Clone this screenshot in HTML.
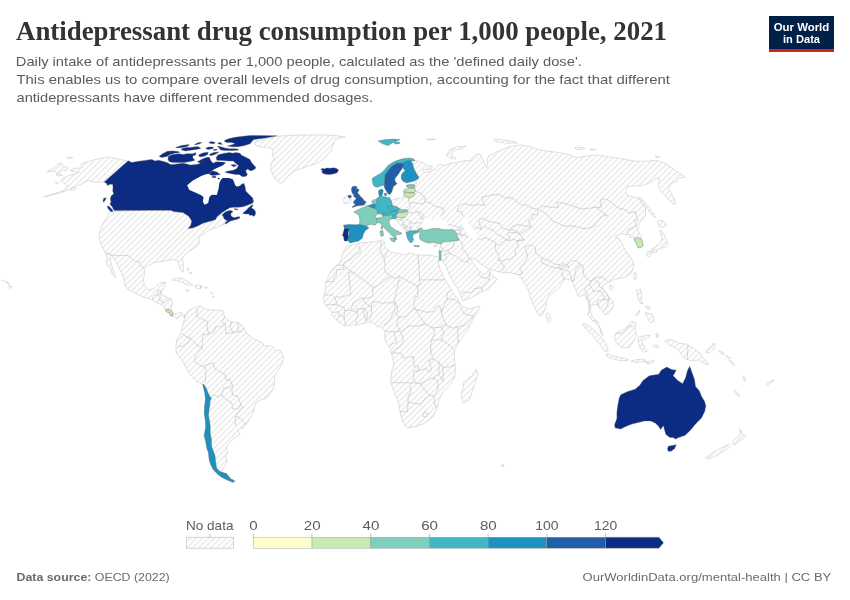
<!DOCTYPE html>
<html><head><meta charset="utf-8">
<style>
html,body{margin:0;padding:0;background:#fff;}
body{width:850px;height:600px;position:relative;overflow:hidden;font-family:"Liberation Sans",sans-serif;}
svg{position:absolute;left:0;top:0;will-change:transform;}
.ti{font-family:"Liberation Serif",serif;font-weight:bold;font-size:26.9px;fill:#333333;}
.sb{font-family:"Liberation Sans",sans-serif;font-size:13.4px;fill:#5b5b5b;}
.ft{font-family:"Liberation Sans",sans-serif;font-size:11.7px;fill:#6b6b6b;}
.lg{font-family:"Liberation Sans",sans-serif;font-size:12.6px;fill:#5b5b5b;}
.lo{font-family:"Liberation Sans",sans-serif;font-weight:bold;font-size:11.5px;fill:#fff;}
</style></head><body>
<svg width="850" height="600" viewBox="0 0 850 600">
<defs>
<pattern id="hatch" patternUnits="userSpaceOnUse" width="4.24" height="4.24" patternTransform="rotate(-45)">
<rect width="4.24" height="4.24" fill="#fff"/>
<line x1="0" y1="2.12" x2="4.24" y2="2.12" stroke="#e5e5e5" stroke-width="1.2"/>
</pattern>
<clipPath id="landclip"><polygon points="127.6,161.2 120.0,159.4 113.0,158.0 108.2,157.4 106.4,156.9 100.0,158.8 96.0,159.2 88.0,161.6 82.0,163.5 80.4,164.5 82.5,166.3 80.0,168.0 74.4,168.4 70.4,170.4 72.0,171.5 76.0,171.8 79.0,172.5 75.0,174.0 70.0,175.2 66.2,176.5 64.0,177.6 60.8,180.0 62.5,182.5 66.0,184.5 68.0,185.8 64.0,190.4 55.0,193.5 44.0,196.6 46.0,196.6 56.0,194.0 64.5,191.5 70.0,189.5 74.0,187.5 78.0,185.5 80.9,184.6 84.0,182.5 87.0,181.2 89.4,180.5 93.0,181.8 98.8,182.4 104.3,182.0"/><polygon points="47.2,171.6 52.0,168.8 56.0,165.5 60.8,162.4 64.0,166.4 68.0,168.0 66.4,170.4 62.4,170.4 58.4,173.6 53.6,171.2"/><polygon points="67.2,157.8 70.0,157.2 72.8,157.6 70.0,158.4"/><polygon points="56.0,174.6 59.0,174.2 62.4,175.0 59.0,176.0"/><polygon points="55.2,182.5 57.0,182.0 58.4,183.0 56.5,183.6"/><polygon points="71.0,188.0 74.0,187.3 76.5,188.5 74.0,190.5 71.5,190.5"/><polygon points="110.6,211.2 150.0,210.3 171.2,210.3 173.5,211.5 183.0,212.6 188.8,216.2 191.8,220.9 190.6,225.6 188.2,228.5 192.4,227.9 197.1,226.2 202.9,223.2 208.8,221.5 212.0,220.8 215.5,219.5 216.5,217.5 218.2,215.5 221.9,214.9 222.9,215.5 223.5,217.0 224.5,219.2 227.7,220.8 225.6,222.3 225.1,223.9 221.5,225.5 218.5,226.5 215.3,228.0 211.3,229.3 207.3,231.3 204.7,233.3 200.0,236.0 198.7,239.3 199.3,242.7 197.3,246.0 193.3,248.7 189.3,251.3 186.0,254.0 183.3,256.7 182.4,258.5 182.4,260.3 183.5,266.2 182.9,272.1 181.2,270.9 178.8,265.0 177.6,260.3 174.1,259.7 168.2,260.3 161.2,261.5 154.1,262.6 149.4,265.0 144.7,268.5 141.2,266.2 138.8,261.5 135.3,261.5 131.8,259.1 128.2,255.6 117.6,255.6 111.8,255.0 105.3,252.6 100.8,244.5 99.1,237.9 100.0,231.3 103.2,223.1 107.4,216.5"/><polygon points="105.3,252.6 111.8,255.0 117.6,255.6 128.2,255.6 131.8,259.1 135.3,261.5 138.8,261.5 141.2,266.2 144.7,269.7 144.7,273.2 143.5,279.1 144.1,285.0 148.2,289.7 152.9,289.1 157.6,285.0 161.2,282.6 165.9,282.6 164.1,287.4 161.2,292.1 161.2,294.4 165.9,296.8 171.8,299.1 172.4,303.8 171.5,306.5 170.8,309.0 172.3,312.0 172.8,314.0 175.0,314.0 178.0,313.0 180.5,312.5 183.0,313.5 185.0,315.0 185.3,316.3 184.0,317.5 183.0,316.0 181.0,315.0 179.0,316.0 178.0,318.5 176.5,319.0 175.0,317.0 173.5,316.5 172.3,316.0 171.0,316.0 170.0,314.5 169.0,312.5 167.5,312.3 166.3,311.5 165.8,310.0 162.4,305.0 156.5,302.6 150.6,299.1 142.4,296.8 135.3,293.2 128.2,289.7 124.7,285.0 124.1,279.1 121.2,272.1 117.6,265.0 114.1,257.9 111.8,255.6 111.2,254.4 110.0,256.2 110.6,260.3 111.8,266.2 113.5,272.1 115.9,276.2 115.3,277.9 111.8,273.2 110.6,268.5 106.5,265.0 107.1,256.8"/><polygon points="171.8,280.3 176.5,277.9 182.4,278.5 188.2,281.5 192.9,285.0 189.4,285.6 182.4,282.6 176.5,280.3"/><polygon points="195.0,285.5 199.0,285.0 202.5,286.5 201.0,288.3 197.0,288.5 195.5,287.5"/><polygon points="185.9,289.8 189.4,290.1 188.5,291.2 186.2,291.0"/><polygon points="205.0,287.0 207.0,287.0 207.0,288.2 205.0,288.2"/><polygon points="254.7,143.8 258.2,146.8 268.8,147.4 273.5,150.3 272.4,155.6 274.7,159.1 271.2,162.6 270.6,168.5 273.5,176.8 279.4,182.6 281.8,183.2 286.5,177.9 294.7,170.9 300.0,169.1 309.4,165.6 318.8,162.6 323.5,159.1 327.0,155.6 331.8,149.7 333.0,145.0 335.3,139.1 345.3,136.8 329.4,135.0 300.0,135.0 277.0,136.2 265.0,139.0 255.0,141.5"/><polygon points="187.0,268.5 188.5,268.0 189.0,270.0 187.5,270.5"/><polygon points="190.0,272.0 191.5,272.5 191.0,274.0 189.8,273.5"/><polygon points="211.0,292.0 212.0,292.0 212.0,293.5 211.0,293.5"/><polygon points="213.0,296.0 214.0,296.0 214.0,297.5 213.0,297.5"/><polygon points="2.2,280.0 3.4,280.0 3.2,281.0 2.2,281.0"/><polygon points="5.0,281.2 7.0,281.5 9.5,283.5 8.0,284.0 5.5,282.5"/><polygon points="9.0,285.3 10.5,285.6 12.0,287.2 10.5,288.8 9.0,287.5"/><polygon points="185.3,316.3 187.5,311.5 190.0,309.5 193.0,308.3 195.0,307.5 200.0,305.8 203.3,308.3 210.0,310.0 218.3,310.0 223.3,310.8 224.2,315.8 230.0,321.7 238.3,322.5 243.3,326.7 246.7,333.3 253.3,338.3 263.3,343.3 264.0,346.0 271.7,345.8 276.0,350.5 280.0,350.0 282.0,353.5 283.5,358.0 282.0,364.0 277.5,371.5 274.5,376.0 274.5,382.0 273.0,389.5 268.5,395.5 266.7,397.9 260.0,400.0 255.0,404.2 254.2,410.8 250.8,417.5 246.7,423.3 243.3,428.3 239.2,428.3 237.5,430.0 240.0,433.3 239.4,435.0 236.2,437.3 230.8,440.6 227.5,444.9 226.4,448.2 227.5,452.5 225.3,455.8 227.5,461.2 225.3,465.5 223.2,468.8 221.0,470.9 218.8,472.0 224.3,473.1 226.4,473.6 228.6,476.3 230.8,479.0 233.5,480.1 235.5,481.0 232.9,482.3 227.5,480.1 222.1,477.4 217.8,474.2 213.4,469.8 210.7,464.4 209.1,459.0 208.5,452.5 206.9,448.2 205.8,441.7 204.2,435.7 205.8,426.5 205.3,420.0 204.3,413.0 204.8,405.0 205.5,399.0 204.7,392.5 203.2,386.5 202.8,384.5 195.8,381.0 189.5,374.0 184.8,365.5 180.5,358.0 176.5,353.5 175.8,348.3 176.7,340.0 181.7,331.7 183.3,323.3"/><polygon points="352.0,245.0 360.0,243.0 366.0,242.5 372.0,242.0 378.0,241.2 380.1,240.5 382.7,239.9 384.6,242.5 384.0,245.7 385.3,248.3 387.9,249.6 392.0,252.0 396.0,253.0 404.0,255.0 410.0,253.0 416.0,255.0 426.0,255.0 434.0,256.0 438.0,257.0 440.5,258.0 438.0,261.0 440.0,269.5 444.5,278.5 449.0,286.0 453.5,293.5 458.0,299.5 461.0,305.5 468.5,309.2 476.0,307.0 479.7,306.2 477.5,311.5 473.0,319.0 470.0,325.0 467.5,330.3 461.0,339.0 454.5,349.8 454.5,360.6 455.6,369.3 454.5,378.0 450.1,384.5 443.6,391.0 439.3,399.6 437.1,408.3 432.8,417.0 424.1,423.5 415.5,426.7 406.8,427.8 402.5,421.3 400.3,412.6 398.2,401.8 393.8,391.0 390.6,382.3 391.7,371.5 393.8,362.8 391.7,354.1 389.5,347.6 385.2,341.2 384.9,337.4 384.9,332.6 384.0,329.8 381.2,327.0 376.5,326.1 373.6,323.2 370.8,321.8 364.2,323.2 357.6,325.1 351.1,325.1 344.5,326.1 340.7,323.2 336.0,319.5 332.2,315.7 331.3,311.9 327.5,307.2 324.2,303.5 323.5,299.0 325.0,291.0 326.0,281.0 330.0,273.0 334.0,267.0 340.0,263.0 342.0,255.0 346.0,247.0"/><polygon points="463.1,382.3 471.8,375.8 476.1,369.3 478.3,373.6 474.0,386.6 469.6,399.6 463.1,402.9 461.0,395.3 463.1,386.6"/><polygon points="414.6,160.4 418.8,161.3 424.5,163.2 428.2,166.0 432.9,166.0 431.1,168.8 426.4,169.8 423.5,168.8 422.6,171.6 426.4,172.6 431.1,170.7 435.8,168.8 437.6,165.1 440.5,164.1 442.4,166.0 445.2,165.1 450.8,163.2 456.5,162.7 461.2,161.3 466.0,160.8 471.1,160.4 472.7,157.1 476.0,154.6 480.1,153.8 481.8,157.1 483.4,160.4 485.1,164.5 486.7,167.8 487.5,163.7 487.0,160.0 488.0,157.5 489.2,155.5 492.5,154.6 497.4,151.4 505.7,148.1 513.9,145.6 522.1,144.8 532.0,147.2 538.6,149.7 548.5,151.4 558.8,152.4 567.6,154.1 576.5,157.6 587.1,155.9 595.9,155.0 608.2,156.8 620.6,158.5 634.7,161.2 647.1,161.2 655.9,160.3 664.7,162.9 673.5,169.1 678.8,172.6 685.0,177.1 678.8,177.9 677.0,181.5 671.8,183.2 668.2,188.5 671.8,193.8 674.4,199.1 675.3,204.4 671.8,202.6 666.5,197.4 661.2,192.1 658.5,186.8 659.4,179.7 655.9,177.9 652.4,181.5 648.8,183.2 641.8,185.9 634.7,185.9 627.6,186.8 625.9,192.1 627.6,195.6 634.7,197.4 640.0,199.1 641.0,202.0 645.5,208.0 645.5,215.5 641.0,221.5 638.0,226.0 638.0,230.5 639.5,234.0 641.7,239.5 643.2,245.5 640.2,247.7 638.0,247.7 636.5,244.0 635.0,241.0 634.2,238.7 633.5,236.5 630.5,238.0 629.0,234.0 626.0,235.0 621.5,233.5 615.5,236.5 619.0,238.5 621.5,242.5 624.5,248.5 627.5,253.0 630.5,257.5 633.5,262.0 633.5,268.0 630.5,274.0 626.0,277.0 620.0,278.3 613.3,280.0 606.7,283.3 603.3,285.0 602.0,287.0 604.0,290.0 607.0,294.0 610.0,298.0 613.0,301.0 613.5,306.0 612.0,309.0 608.0,313.0 605.0,315.0 604.0,313.0 602.0,310.0 599.0,308.0 598.0,305.0 596.0,304.0 593.0,305.0 591.0,307.0 590.5,310.0 591.0,313.0 592.5,317.0 595.0,320.0 597.0,321.0 599.0,324.0 600.0,328.0 600.5,332.0 602.0,335.5 603.0,334.0 601.0,330.0 599.0,327.0 596.0,324.0 593.0,321.0 590.0,318.0 588.0,315.0 589.0,310.0 589.0,306.0 588.0,302.0 586.5,298.0 585.0,295.0 583.3,295.0 578.3,296.7 576.7,291.7 573.3,285.0 571.7,280.0 568.3,280.0 565.0,278.3 563.3,281.7 560.0,286.7 555.0,291.7 550.0,295.0 546.7,300.0 545.8,306.7 543.3,313.3 540.8,316.7 536.7,311.7 533.3,305.0 530.0,296.7 528.3,290.0 526.7,286.7 523.3,281.7 520.0,275.0 515.0,274.0 509.0,272.5 503.0,272.5 495.5,271.0 488.0,268.7 482.0,265.0 474.5,259.0 470.0,259.0 473.5,263.5 477.0,268.0 480.0,272.0 481.5,271.5 482.5,273.5 484.0,274.5 486.5,273.0 488.0,270.5 489.5,271.0 494.0,277.0 497.0,279.2 494.0,283.0 488.0,289.0 479.0,293.5 470.0,298.0 462.5,301.0 459.5,292.0 455.0,284.5 450.5,277.0 446.0,266.5 441.5,259.0 440.5,257.5 439.5,251.0 440.0,247.0 441.0,244.0 442.0,242.0 436.0,243.0 428.0,243.0 420.0,240.0 419.0,233.0 414.8,230.8 410.0,232.0 406.3,233.6 405.0,230.5 402.5,227.5 399.0,223.5 396.0,220.0 395.2,218.5 391.5,217.0 388.0,212.0 389.0,207.0 390.5,200.6 394.0,199.6 399.0,198.5 403.0,197.8 404.0,194.0 404.5,190.0 406.5,186.0 410.0,185.0 414.0,184.5 417.0,183.0 412.0,181.0 414.0,172.0 413.0,163.0"/><polygon points="546.7,313.3 549.2,313.3 550.8,320.0 548.3,322.5 546.3,318.3"/><polygon points="610.0,285.0 613.3,286.7 611.7,290.0 609.2,288.3"/><polygon points="634.5,272.5 636.0,273.5 636.5,278.5 634.5,279.5 634.0,276.0"/><polygon points="657.5,221.5 662.0,220.0 666.5,224.5 663.5,227.5 659.0,226.7"/><polygon points="660.5,229.7 663.5,233.5 666.5,239.5 668.0,244.0 665.7,247.0 660.5,248.5 656.0,250.0 651.5,253.0 649.5,252.0 652.0,249.0 655.5,246.5 658.5,245.0 661.0,242.0 662.0,238.0 661.0,234.0 659.5,231.0"/><polygon points="647.0,251.5 650.0,251.2 651.5,253.5 650.5,256.5 648.0,257.0 646.5,254.5"/><polygon points="653.0,250.5 656.5,249.8 657.0,252.0 653.5,252.8"/><polygon points="639.5,197.0 642.0,199.0 646.0,204.0 650.0,209.0 653.5,213.5 655.5,217.0 654.0,217.5 651.0,214.0 647.5,209.0 643.5,204.0 640.0,200.0"/><polygon points="636.5,290.3 640.9,289.4 641.8,296.5 640.9,301.8 643.5,303.0 641.0,304.0 638.5,300.5 637.5,295.0"/><polygon points="645.0,306.0 648.5,306.5 650.6,308.8 648.0,310.0"/><polygon points="645.3,312.4 652.4,314.1 654.1,321.2 650.6,322.9 647.1,317.6"/><polygon points="637.0,313.0 640.0,310.0 639.0,313.5 636.0,316.0"/><polygon points="582.6,323.8 587.1,324.7 594.1,330.0 601.2,337.1 606.5,344.1 608.2,351.2 604.7,351.2 599.4,344.1 592.4,335.3 585.3,328.2"/><polygon points="606.5,353.8 615.3,356.5 624.1,358.2 628.5,360.0 622.4,360.9 613.5,359.1 606.5,356.5"/><polygon points="631.2,360.9 637.0,359.5 643.5,359.1 647.1,361.5 641.0,362.0 635.0,362.3"/><polygon points="646.0,362.8 650.0,361.3 654.1,360.0 652.0,363.3 648.0,364.0"/><polygon points="615.3,333.5 622.4,330.0 627.6,326.5 631.2,321.2 636.5,322.9 634.7,328.2 636.5,335.3 632.9,342.3 629.4,347.6 622.4,347.6 617.1,344.1 614.4,338.8"/><polygon points="638.2,337.1 647.1,335.3 650.6,335.3 645.3,338.8 641.8,340.6 643.5,345.9 647.1,351.2 643.5,352.1 640.0,347.6 638.2,342.3"/><polygon points="664.7,340.6 671.8,339.7 678.8,343.2 685.9,344.1 692.9,347.6 700.0,352.9 703.5,358.2 708.8,364.4 703.5,363.5 698.2,360.0 691.2,360.9 684.1,358.2 680.6,352.9 675.3,347.6 670.0,345.9"/><polygon points="653.0,345.5 657.0,345.0 659.0,347.0 655.0,347.5"/><polygon points="656.0,333.5 658.0,333.0 658.5,337.0 656.5,337.5"/><polygon points="705.8,352.2 708.0,349.0 711.6,346.3 715.1,348.7 712.0,350.5 709.3,353.3"/><polygon points="712.0,344.0 714.0,343.0 716.0,345.5 714.5,346.0"/><polygon points="719.0,350.8 722.0,352.0 724.5,354.0 723.5,354.8 720.5,353.0"/><polygon points="726.0,355.5 729.0,357.0 730.5,358.8 729.0,359.0 726.5,357.2"/><polygon points="729.5,360.0 732.0,361.5 734.5,364.5 733.5,365.5 730.5,362.5"/><polygon points="743.0,376.0 744.3,376.5 745.5,380.5 744.5,381.2 743.3,378.5"/><polygon points="734.0,390.2 736.0,391.2 739.5,394.5 739.5,396.3 737.0,395.0 734.5,392.0"/><polygon points="766.0,384.5 768.5,382.5 770.0,383.0 767.5,385.6"/><polygon points="770.0,381.5 773.5,379.8 774.0,380.8 771.0,382.3"/><polygon points="501.5,465.0 503.5,464.5 504.0,466.3 502.0,466.5"/><polygon points="446.4,155.5 449.6,149.7 457.9,146.4 466.1,146.1 462.8,148.1 454.6,150.5 451.3,154.6 456.2,158.8 451.3,158.8"/><polygon points="494.1,139.0 502.4,139.8 513.9,141.5 517.2,143.1 505.7,143.1 495.8,141.5"/><polygon points="574.7,147.5 580.0,147.0 585.3,148.5 581.0,149.5 576.0,149.3"/><polygon points="590.0,149.0 596.0,149.5 592.0,150.5"/><polygon points="426.6,139.0 435.6,139.0 432.0,140.0 428.0,140.0"/><polygon points="655.0,156.5 660.0,157.0 657.0,158.0"/><polygon points="705.2,457.8 713.3,452.5 721.5,447.8 728.5,444.3 730.3,446.7 723.8,451.3 715.7,456.0 708.7,458.9"/><polygon points="733.2,440.8 739.0,436.2 740.2,432.7 739.0,428.6 741.3,430.3 741.9,434.4 746.0,436.2 741.3,439.7 734.3,445.5 732.6,443.8"/><polygon points="344.5,197.4 347.3,195.5 348.3,195.5 348.0,197.0 349.2,197.9 351.1,197.9 351.5,199.7 350.6,201.6 348.7,203.0 345.9,203.5 343.6,203.5 344.1,201.6 343.6,199.7"/><polygon points="375.3,216.2 377.6,213.8 380.0,213.8 382.4,214.4 382.9,216.2 381.2,217.9 378.8,217.9 376.5,218.5"/><polygon points="433.3,246.2 435.5,245.3 438.0,244.1 437.2,245.6 435.5,246.9"/></clipPath>
</defs>
<text class="ti" x="16" y="39.8" textLength="651" lengthAdjust="spacingAndGlyphs">Antidepressant drug consumption per 1,000 people, 2021</text>
<text class="sb" x="15.8" y="66" textLength="566" lengthAdjust="spacingAndGlyphs">Daily intake of antidepressants per 1,000 people, calculated as the 'defined daily dose'.</text>
<text class="sb" x="16.5" y="83.9" textLength="653.5" lengthAdjust="spacingAndGlyphs">This enables us to compare overall levels of drug consumption, accounting for the fact that different</text>
<text class="sb" x="16.5" y="101.8" textLength="356.5" lengthAdjust="spacingAndGlyphs">antidepressants have different recommended dosages.</text>
<rect x="769" y="16" width="65" height="36" fill="#002147"/>
<rect x="769" y="49" width="65" height="3" fill="#ce261e"/>
<text class="lo" x="801.5" y="30.7" text-anchor="middle" textLength="55.5" lengthAdjust="spacingAndGlyphs">Our World</text>
<text class="lo" x="801.5" y="42.8" text-anchor="middle" textLength="37" lengthAdjust="spacingAndGlyphs">in Data</text>
<text class="ft" x="16.5" y="580.5" textLength="153.2" lengthAdjust="spacingAndGlyphs"><tspan font-weight="bold">Data source:</tspan> OECD (2022)</text>
<text class="ft" x="582.5" y="580.5" textLength="248.8" lengthAdjust="spacingAndGlyphs">OurWorldinData.org/mental-health | CC BY</text>
<g id="map">
<polygon points="127.6,161.2 120.0,159.4 113.0,158.0 108.2,157.4 106.4,156.9 100.0,158.8 96.0,159.2 88.0,161.6 82.0,163.5 80.4,164.5 82.5,166.3 80.0,168.0 74.4,168.4 70.4,170.4 72.0,171.5 76.0,171.8 79.0,172.5 75.0,174.0 70.0,175.2 66.2,176.5 64.0,177.6 60.8,180.0 62.5,182.5 66.0,184.5 68.0,185.8 64.0,190.4 55.0,193.5 44.0,196.6 46.0,196.6 56.0,194.0 64.5,191.5 70.0,189.5 74.0,187.5 78.0,185.5 80.9,184.6 84.0,182.5 87.0,181.2 89.4,180.5 93.0,181.8 98.8,182.4 104.3,182.0" fill="url(#hatch)" stroke="#c0c0c0" stroke-width="0.5" stroke-linejoin="round"/>
<polygon points="47.2,171.6 52.0,168.8 56.0,165.5 60.8,162.4 64.0,166.4 68.0,168.0 66.4,170.4 62.4,170.4 58.4,173.6 53.6,171.2" fill="url(#hatch)" stroke="#c0c0c0" stroke-width="0.5" stroke-linejoin="round"/>
<polygon points="67.2,157.8 70.0,157.2 72.8,157.6 70.0,158.4" fill="url(#hatch)" stroke="#c0c0c0" stroke-width="0.5" stroke-linejoin="round"/>
<polygon points="56.0,174.6 59.0,174.2 62.4,175.0 59.0,176.0" fill="url(#hatch)" stroke="#c0c0c0" stroke-width="0.5" stroke-linejoin="round"/>
<polygon points="55.2,182.5 57.0,182.0 58.4,183.0 56.5,183.6" fill="url(#hatch)" stroke="#c0c0c0" stroke-width="0.5" stroke-linejoin="round"/>
<polygon points="71.0,188.0 74.0,187.3 76.5,188.5 74.0,190.5 71.5,190.5" fill="url(#hatch)" stroke="#c0c0c0" stroke-width="0.5" stroke-linejoin="round"/>
<polygon points="110.6,211.2 150.0,210.3 171.2,210.3 173.5,211.5 183.0,212.6 188.8,216.2 191.8,220.9 190.6,225.6 188.2,228.5 192.4,227.9 197.1,226.2 202.9,223.2 208.8,221.5 212.0,220.8 215.5,219.5 216.5,217.5 218.2,215.5 221.9,214.9 222.9,215.5 223.5,217.0 224.5,219.2 227.7,220.8 225.6,222.3 225.1,223.9 221.5,225.5 218.5,226.5 215.3,228.0 211.3,229.3 207.3,231.3 204.7,233.3 200.0,236.0 198.7,239.3 199.3,242.7 197.3,246.0 193.3,248.7 189.3,251.3 186.0,254.0 183.3,256.7 182.4,258.5 182.4,260.3 183.5,266.2 182.9,272.1 181.2,270.9 178.8,265.0 177.6,260.3 174.1,259.7 168.2,260.3 161.2,261.5 154.1,262.6 149.4,265.0 144.7,268.5 141.2,266.2 138.8,261.5 135.3,261.5 131.8,259.1 128.2,255.6 117.6,255.6 111.8,255.0 105.3,252.6 100.8,244.5 99.1,237.9 100.0,231.3 103.2,223.1 107.4,216.5" fill="url(#hatch)" stroke="#c0c0c0" stroke-width="0.5" stroke-linejoin="round"/>
<polygon points="105.3,252.6 111.8,255.0 117.6,255.6 128.2,255.6 131.8,259.1 135.3,261.5 138.8,261.5 141.2,266.2 144.7,269.7 144.7,273.2 143.5,279.1 144.1,285.0 148.2,289.7 152.9,289.1 157.6,285.0 161.2,282.6 165.9,282.6 164.1,287.4 161.2,292.1 161.2,294.4 165.9,296.8 171.8,299.1 172.4,303.8 171.5,306.5 170.8,309.0 172.3,312.0 172.8,314.0 175.0,314.0 178.0,313.0 180.5,312.5 183.0,313.5 185.0,315.0 185.3,316.3 184.0,317.5 183.0,316.0 181.0,315.0 179.0,316.0 178.0,318.5 176.5,319.0 175.0,317.0 173.5,316.5 172.3,316.0 171.0,316.0 170.0,314.5 169.0,312.5 167.5,312.3 166.3,311.5 165.8,310.0 162.4,305.0 156.5,302.6 150.6,299.1 142.4,296.8 135.3,293.2 128.2,289.7 124.7,285.0 124.1,279.1 121.2,272.1 117.6,265.0 114.1,257.9 111.8,255.6 111.2,254.4 110.0,256.2 110.6,260.3 111.8,266.2 113.5,272.1 115.9,276.2 115.3,277.9 111.8,273.2 110.6,268.5 106.5,265.0 107.1,256.8" fill="url(#hatch)" stroke="#c0c0c0" stroke-width="0.5" stroke-linejoin="round"/>
<polygon points="171.8,280.3 176.5,277.9 182.4,278.5 188.2,281.5 192.9,285.0 189.4,285.6 182.4,282.6 176.5,280.3" fill="url(#hatch)" stroke="#c0c0c0" stroke-width="0.5" stroke-linejoin="round"/>
<polygon points="195.0,285.5 199.0,285.0 202.5,286.5 201.0,288.3 197.0,288.5 195.5,287.5" fill="url(#hatch)" stroke="#c0c0c0" stroke-width="0.5" stroke-linejoin="round"/>
<polygon points="185.9,289.8 189.4,290.1 188.5,291.2 186.2,291.0" fill="url(#hatch)" stroke="#c0c0c0" stroke-width="0.5" stroke-linejoin="round"/>
<polygon points="205.0,287.0 207.0,287.0 207.0,288.2 205.0,288.2" fill="url(#hatch)" stroke="#c0c0c0" stroke-width="0.5" stroke-linejoin="round"/>
<polygon points="254.7,143.8 258.2,146.8 268.8,147.4 273.5,150.3 272.4,155.6 274.7,159.1 271.2,162.6 270.6,168.5 273.5,176.8 279.4,182.6 281.8,183.2 286.5,177.9 294.7,170.9 300.0,169.1 309.4,165.6 318.8,162.6 323.5,159.1 327.0,155.6 331.8,149.7 333.0,145.0 335.3,139.1 345.3,136.8 329.4,135.0 300.0,135.0 277.0,136.2 265.0,139.0 255.0,141.5" fill="url(#hatch)" stroke="#c0c0c0" stroke-width="0.5" stroke-linejoin="round"/>
<polygon points="187.0,268.5 188.5,268.0 189.0,270.0 187.5,270.5" fill="url(#hatch)" stroke="#c0c0c0" stroke-width="0.5" stroke-linejoin="round"/>
<polygon points="190.0,272.0 191.5,272.5 191.0,274.0 189.8,273.5" fill="url(#hatch)" stroke="#c0c0c0" stroke-width="0.5" stroke-linejoin="round"/>
<polygon points="211.0,292.0 212.0,292.0 212.0,293.5 211.0,293.5" fill="url(#hatch)" stroke="#c0c0c0" stroke-width="0.5" stroke-linejoin="round"/>
<polygon points="213.0,296.0 214.0,296.0 214.0,297.5 213.0,297.5" fill="url(#hatch)" stroke="#c0c0c0" stroke-width="0.5" stroke-linejoin="round"/>
<polygon points="2.2,280.0 3.4,280.0 3.2,281.0 2.2,281.0" fill="url(#hatch)" stroke="#c0c0c0" stroke-width="0.5" stroke-linejoin="round"/>
<polygon points="5.0,281.2 7.0,281.5 9.5,283.5 8.0,284.0 5.5,282.5" fill="url(#hatch)" stroke="#c0c0c0" stroke-width="0.5" stroke-linejoin="round"/>
<polygon points="9.0,285.3 10.5,285.6 12.0,287.2 10.5,288.8 9.0,287.5" fill="url(#hatch)" stroke="#c0c0c0" stroke-width="0.5" stroke-linejoin="round"/>
<polygon points="185.3,316.3 187.5,311.5 190.0,309.5 193.0,308.3 195.0,307.5 200.0,305.8 203.3,308.3 210.0,310.0 218.3,310.0 223.3,310.8 224.2,315.8 230.0,321.7 238.3,322.5 243.3,326.7 246.7,333.3 253.3,338.3 263.3,343.3 264.0,346.0 271.7,345.8 276.0,350.5 280.0,350.0 282.0,353.5 283.5,358.0 282.0,364.0 277.5,371.5 274.5,376.0 274.5,382.0 273.0,389.5 268.5,395.5 266.7,397.9 260.0,400.0 255.0,404.2 254.2,410.8 250.8,417.5 246.7,423.3 243.3,428.3 239.2,428.3 237.5,430.0 240.0,433.3 239.4,435.0 236.2,437.3 230.8,440.6 227.5,444.9 226.4,448.2 227.5,452.5 225.3,455.8 227.5,461.2 225.3,465.5 223.2,468.8 221.0,470.9 218.8,472.0 224.3,473.1 226.4,473.6 228.6,476.3 230.8,479.0 233.5,480.1 235.5,481.0 232.9,482.3 227.5,480.1 222.1,477.4 217.8,474.2 213.4,469.8 210.7,464.4 209.1,459.0 208.5,452.5 206.9,448.2 205.8,441.7 204.2,435.7 205.8,426.5 205.3,420.0 204.3,413.0 204.8,405.0 205.5,399.0 204.7,392.5 203.2,386.5 202.8,384.5 195.8,381.0 189.5,374.0 184.8,365.5 180.5,358.0 176.5,353.5 175.8,348.3 176.7,340.0 181.7,331.7 183.3,323.3" fill="url(#hatch)" stroke="#c0c0c0" stroke-width="0.5" stroke-linejoin="round"/>
<polygon points="352.0,245.0 360.0,243.0 366.0,242.5 372.0,242.0 378.0,241.2 380.1,240.5 382.7,239.9 384.6,242.5 384.0,245.7 385.3,248.3 387.9,249.6 392.0,252.0 396.0,253.0 404.0,255.0 410.0,253.0 416.0,255.0 426.0,255.0 434.0,256.0 438.0,257.0 440.5,258.0 438.0,261.0 440.0,269.5 444.5,278.5 449.0,286.0 453.5,293.5 458.0,299.5 461.0,305.5 468.5,309.2 476.0,307.0 479.7,306.2 477.5,311.5 473.0,319.0 470.0,325.0 467.5,330.3 461.0,339.0 454.5,349.8 454.5,360.6 455.6,369.3 454.5,378.0 450.1,384.5 443.6,391.0 439.3,399.6 437.1,408.3 432.8,417.0 424.1,423.5 415.5,426.7 406.8,427.8 402.5,421.3 400.3,412.6 398.2,401.8 393.8,391.0 390.6,382.3 391.7,371.5 393.8,362.8 391.7,354.1 389.5,347.6 385.2,341.2 384.9,337.4 384.9,332.6 384.0,329.8 381.2,327.0 376.5,326.1 373.6,323.2 370.8,321.8 364.2,323.2 357.6,325.1 351.1,325.1 344.5,326.1 340.7,323.2 336.0,319.5 332.2,315.7 331.3,311.9 327.5,307.2 324.2,303.5 323.5,299.0 325.0,291.0 326.0,281.0 330.0,273.0 334.0,267.0 340.0,263.0 342.0,255.0 346.0,247.0" fill="url(#hatch)" stroke="#c0c0c0" stroke-width="0.5" stroke-linejoin="round"/>
<polygon points="463.1,382.3 471.8,375.8 476.1,369.3 478.3,373.6 474.0,386.6 469.6,399.6 463.1,402.9 461.0,395.3 463.1,386.6" fill="url(#hatch)" stroke="#c0c0c0" stroke-width="0.5" stroke-linejoin="round"/>
<polygon points="414.6,160.4 418.8,161.3 424.5,163.2 428.2,166.0 432.9,166.0 431.1,168.8 426.4,169.8 423.5,168.8 422.6,171.6 426.4,172.6 431.1,170.7 435.8,168.8 437.6,165.1 440.5,164.1 442.4,166.0 445.2,165.1 450.8,163.2 456.5,162.7 461.2,161.3 466.0,160.8 471.1,160.4 472.7,157.1 476.0,154.6 480.1,153.8 481.8,157.1 483.4,160.4 485.1,164.5 486.7,167.8 487.5,163.7 487.0,160.0 488.0,157.5 489.2,155.5 492.5,154.6 497.4,151.4 505.7,148.1 513.9,145.6 522.1,144.8 532.0,147.2 538.6,149.7 548.5,151.4 558.8,152.4 567.6,154.1 576.5,157.6 587.1,155.9 595.9,155.0 608.2,156.8 620.6,158.5 634.7,161.2 647.1,161.2 655.9,160.3 664.7,162.9 673.5,169.1 678.8,172.6 685.0,177.1 678.8,177.9 677.0,181.5 671.8,183.2 668.2,188.5 671.8,193.8 674.4,199.1 675.3,204.4 671.8,202.6 666.5,197.4 661.2,192.1 658.5,186.8 659.4,179.7 655.9,177.9 652.4,181.5 648.8,183.2 641.8,185.9 634.7,185.9 627.6,186.8 625.9,192.1 627.6,195.6 634.7,197.4 640.0,199.1 641.0,202.0 645.5,208.0 645.5,215.5 641.0,221.5 638.0,226.0 638.0,230.5 639.5,234.0 641.7,239.5 643.2,245.5 640.2,247.7 638.0,247.7 636.5,244.0 635.0,241.0 634.2,238.7 633.5,236.5 630.5,238.0 629.0,234.0 626.0,235.0 621.5,233.5 615.5,236.5 619.0,238.5 621.5,242.5 624.5,248.5 627.5,253.0 630.5,257.5 633.5,262.0 633.5,268.0 630.5,274.0 626.0,277.0 620.0,278.3 613.3,280.0 606.7,283.3 603.3,285.0 602.0,287.0 604.0,290.0 607.0,294.0 610.0,298.0 613.0,301.0 613.5,306.0 612.0,309.0 608.0,313.0 605.0,315.0 604.0,313.0 602.0,310.0 599.0,308.0 598.0,305.0 596.0,304.0 593.0,305.0 591.0,307.0 590.5,310.0 591.0,313.0 592.5,317.0 595.0,320.0 597.0,321.0 599.0,324.0 600.0,328.0 600.5,332.0 602.0,335.5 603.0,334.0 601.0,330.0 599.0,327.0 596.0,324.0 593.0,321.0 590.0,318.0 588.0,315.0 589.0,310.0 589.0,306.0 588.0,302.0 586.5,298.0 585.0,295.0 583.3,295.0 578.3,296.7 576.7,291.7 573.3,285.0 571.7,280.0 568.3,280.0 565.0,278.3 563.3,281.7 560.0,286.7 555.0,291.7 550.0,295.0 546.7,300.0 545.8,306.7 543.3,313.3 540.8,316.7 536.7,311.7 533.3,305.0 530.0,296.7 528.3,290.0 526.7,286.7 523.3,281.7 520.0,275.0 515.0,274.0 509.0,272.5 503.0,272.5 495.5,271.0 488.0,268.7 482.0,265.0 474.5,259.0 470.0,259.0 473.5,263.5 477.0,268.0 480.0,272.0 481.5,271.5 482.5,273.5 484.0,274.5 486.5,273.0 488.0,270.5 489.5,271.0 494.0,277.0 497.0,279.2 494.0,283.0 488.0,289.0 479.0,293.5 470.0,298.0 462.5,301.0 459.5,292.0 455.0,284.5 450.5,277.0 446.0,266.5 441.5,259.0 440.5,257.5 439.5,251.0 440.0,247.0 441.0,244.0 442.0,242.0 436.0,243.0 428.0,243.0 420.0,240.0 419.0,233.0 414.8,230.8 410.0,232.0 406.3,233.6 405.0,230.5 402.5,227.5 399.0,223.5 396.0,220.0 395.2,218.5 391.5,217.0 388.0,212.0 389.0,207.0 390.5,200.6 394.0,199.6 399.0,198.5 403.0,197.8 404.0,194.0 404.5,190.0 406.5,186.0 410.0,185.0 414.0,184.5 417.0,183.0 412.0,181.0 414.0,172.0 413.0,163.0" fill="url(#hatch)" stroke="#c0c0c0" stroke-width="0.5" stroke-linejoin="round"/>
<polygon points="546.7,313.3 549.2,313.3 550.8,320.0 548.3,322.5 546.3,318.3" fill="url(#hatch)" stroke="#c0c0c0" stroke-width="0.5" stroke-linejoin="round"/>
<polygon points="610.0,285.0 613.3,286.7 611.7,290.0 609.2,288.3" fill="url(#hatch)" stroke="#c0c0c0" stroke-width="0.5" stroke-linejoin="round"/>
<polygon points="634.5,272.5 636.0,273.5 636.5,278.5 634.5,279.5 634.0,276.0" fill="url(#hatch)" stroke="#c0c0c0" stroke-width="0.5" stroke-linejoin="round"/>
<polygon points="657.5,221.5 662.0,220.0 666.5,224.5 663.5,227.5 659.0,226.7" fill="url(#hatch)" stroke="#c0c0c0" stroke-width="0.5" stroke-linejoin="round"/>
<polygon points="660.5,229.7 663.5,233.5 666.5,239.5 668.0,244.0 665.7,247.0 660.5,248.5 656.0,250.0 651.5,253.0 649.5,252.0 652.0,249.0 655.5,246.5 658.5,245.0 661.0,242.0 662.0,238.0 661.0,234.0 659.5,231.0" fill="url(#hatch)" stroke="#c0c0c0" stroke-width="0.5" stroke-linejoin="round"/>
<polygon points="647.0,251.5 650.0,251.2 651.5,253.5 650.5,256.5 648.0,257.0 646.5,254.5" fill="url(#hatch)" stroke="#c0c0c0" stroke-width="0.5" stroke-linejoin="round"/>
<polygon points="653.0,250.5 656.5,249.8 657.0,252.0 653.5,252.8" fill="url(#hatch)" stroke="#c0c0c0" stroke-width="0.5" stroke-linejoin="round"/>
<polygon points="639.5,197.0 642.0,199.0 646.0,204.0 650.0,209.0 653.5,213.5 655.5,217.0 654.0,217.5 651.0,214.0 647.5,209.0 643.5,204.0 640.0,200.0" fill="url(#hatch)" stroke="#c0c0c0" stroke-width="0.5" stroke-linejoin="round"/>
<polygon points="636.5,290.3 640.9,289.4 641.8,296.5 640.9,301.8 643.5,303.0 641.0,304.0 638.5,300.5 637.5,295.0" fill="url(#hatch)" stroke="#c0c0c0" stroke-width="0.5" stroke-linejoin="round"/>
<polygon points="645.0,306.0 648.5,306.5 650.6,308.8 648.0,310.0" fill="url(#hatch)" stroke="#c0c0c0" stroke-width="0.5" stroke-linejoin="round"/>
<polygon points="645.3,312.4 652.4,314.1 654.1,321.2 650.6,322.9 647.1,317.6" fill="url(#hatch)" stroke="#c0c0c0" stroke-width="0.5" stroke-linejoin="round"/>
<polygon points="637.0,313.0 640.0,310.0 639.0,313.5 636.0,316.0" fill="url(#hatch)" stroke="#c0c0c0" stroke-width="0.5" stroke-linejoin="round"/>
<polygon points="582.6,323.8 587.1,324.7 594.1,330.0 601.2,337.1 606.5,344.1 608.2,351.2 604.7,351.2 599.4,344.1 592.4,335.3 585.3,328.2" fill="url(#hatch)" stroke="#c0c0c0" stroke-width="0.5" stroke-linejoin="round"/>
<polygon points="606.5,353.8 615.3,356.5 624.1,358.2 628.5,360.0 622.4,360.9 613.5,359.1 606.5,356.5" fill="url(#hatch)" stroke="#c0c0c0" stroke-width="0.5" stroke-linejoin="round"/>
<polygon points="631.2,360.9 637.0,359.5 643.5,359.1 647.1,361.5 641.0,362.0 635.0,362.3" fill="url(#hatch)" stroke="#c0c0c0" stroke-width="0.5" stroke-linejoin="round"/>
<polygon points="646.0,362.8 650.0,361.3 654.1,360.0 652.0,363.3 648.0,364.0" fill="url(#hatch)" stroke="#c0c0c0" stroke-width="0.5" stroke-linejoin="round"/>
<polygon points="615.3,333.5 622.4,330.0 627.6,326.5 631.2,321.2 636.5,322.9 634.7,328.2 636.5,335.3 632.9,342.3 629.4,347.6 622.4,347.6 617.1,344.1 614.4,338.8" fill="url(#hatch)" stroke="#c0c0c0" stroke-width="0.5" stroke-linejoin="round"/>
<polygon points="638.2,337.1 647.1,335.3 650.6,335.3 645.3,338.8 641.8,340.6 643.5,345.9 647.1,351.2 643.5,352.1 640.0,347.6 638.2,342.3" fill="url(#hatch)" stroke="#c0c0c0" stroke-width="0.5" stroke-linejoin="round"/>
<polygon points="664.7,340.6 671.8,339.7 678.8,343.2 685.9,344.1 692.9,347.6 700.0,352.9 703.5,358.2 708.8,364.4 703.5,363.5 698.2,360.0 691.2,360.9 684.1,358.2 680.6,352.9 675.3,347.6 670.0,345.9" fill="url(#hatch)" stroke="#c0c0c0" stroke-width="0.5" stroke-linejoin="round"/>
<polygon points="653.0,345.5 657.0,345.0 659.0,347.0 655.0,347.5" fill="url(#hatch)" stroke="#c0c0c0" stroke-width="0.5" stroke-linejoin="round"/>
<polygon points="656.0,333.5 658.0,333.0 658.5,337.0 656.5,337.5" fill="url(#hatch)" stroke="#c0c0c0" stroke-width="0.5" stroke-linejoin="round"/>
<polygon points="705.8,352.2 708.0,349.0 711.6,346.3 715.1,348.7 712.0,350.5 709.3,353.3" fill="url(#hatch)" stroke="#c0c0c0" stroke-width="0.5" stroke-linejoin="round"/>
<polygon points="712.0,344.0 714.0,343.0 716.0,345.5 714.5,346.0" fill="url(#hatch)" stroke="#c0c0c0" stroke-width="0.5" stroke-linejoin="round"/>
<polygon points="719.0,350.8 722.0,352.0 724.5,354.0 723.5,354.8 720.5,353.0" fill="url(#hatch)" stroke="#c0c0c0" stroke-width="0.5" stroke-linejoin="round"/>
<polygon points="726.0,355.5 729.0,357.0 730.5,358.8 729.0,359.0 726.5,357.2" fill="url(#hatch)" stroke="#c0c0c0" stroke-width="0.5" stroke-linejoin="round"/>
<polygon points="729.5,360.0 732.0,361.5 734.5,364.5 733.5,365.5 730.5,362.5" fill="url(#hatch)" stroke="#c0c0c0" stroke-width="0.5" stroke-linejoin="round"/>
<polygon points="743.0,376.0 744.3,376.5 745.5,380.5 744.5,381.2 743.3,378.5" fill="url(#hatch)" stroke="#c0c0c0" stroke-width="0.5" stroke-linejoin="round"/>
<polygon points="734.0,390.2 736.0,391.2 739.5,394.5 739.5,396.3 737.0,395.0 734.5,392.0" fill="url(#hatch)" stroke="#c0c0c0" stroke-width="0.5" stroke-linejoin="round"/>
<polygon points="766.0,384.5 768.5,382.5 770.0,383.0 767.5,385.6" fill="url(#hatch)" stroke="#c0c0c0" stroke-width="0.5" stroke-linejoin="round"/>
<polygon points="770.0,381.5 773.5,379.8 774.0,380.8 771.0,382.3" fill="url(#hatch)" stroke="#c0c0c0" stroke-width="0.5" stroke-linejoin="round"/>
<polygon points="501.5,465.0 503.5,464.5 504.0,466.3 502.0,466.5" fill="url(#hatch)" stroke="#c0c0c0" stroke-width="0.5" stroke-linejoin="round"/>
<polygon points="446.4,155.5 449.6,149.7 457.9,146.4 466.1,146.1 462.8,148.1 454.6,150.5 451.3,154.6 456.2,158.8 451.3,158.8" fill="url(#hatch)" stroke="#c0c0c0" stroke-width="0.5" stroke-linejoin="round"/>
<polygon points="494.1,139.0 502.4,139.8 513.9,141.5 517.2,143.1 505.7,143.1 495.8,141.5" fill="url(#hatch)" stroke="#c0c0c0" stroke-width="0.5" stroke-linejoin="round"/>
<polygon points="574.7,147.5 580.0,147.0 585.3,148.5 581.0,149.5 576.0,149.3" fill="url(#hatch)" stroke="#c0c0c0" stroke-width="0.5" stroke-linejoin="round"/>
<polygon points="590.0,149.0 596.0,149.5 592.0,150.5" fill="url(#hatch)" stroke="#c0c0c0" stroke-width="0.5" stroke-linejoin="round"/>
<polygon points="426.6,139.0 435.6,139.0 432.0,140.0 428.0,140.0" fill="url(#hatch)" stroke="#c0c0c0" stroke-width="0.5" stroke-linejoin="round"/>
<polygon points="655.0,156.5 660.0,157.0 657.0,158.0" fill="url(#hatch)" stroke="#c0c0c0" stroke-width="0.5" stroke-linejoin="round"/>
<polygon points="705.2,457.8 713.3,452.5 721.5,447.8 728.5,444.3 730.3,446.7 723.8,451.3 715.7,456.0 708.7,458.9" fill="url(#hatch)" stroke="#c0c0c0" stroke-width="0.5" stroke-linejoin="round"/>
<polygon points="733.2,440.8 739.0,436.2 740.2,432.7 739.0,428.6 741.3,430.3 741.9,434.4 746.0,436.2 741.3,439.7 734.3,445.5 732.6,443.8" fill="url(#hatch)" stroke="#c0c0c0" stroke-width="0.5" stroke-linejoin="round"/>
<polygon points="344.5,197.4 347.3,195.5 348.3,195.5 348.0,197.0 349.2,197.9 351.1,197.9 351.5,199.7 350.6,201.6 348.7,203.0 345.9,203.5 343.6,203.5 344.1,201.6 343.6,199.7" fill="url(#hatch)" stroke="#c0c0c0" stroke-width="0.5" stroke-linejoin="round"/>
<polygon points="375.3,216.2 377.6,213.8 380.0,213.8 382.4,214.4 382.9,216.2 381.2,217.9 378.8,217.9 376.5,218.5" fill="url(#hatch)" stroke="#c0c0c0" stroke-width="0.5" stroke-linejoin="round"/>
<polygon points="433.3,246.2 435.5,245.3 438.0,244.1 437.2,245.6 435.5,246.9" fill="url(#hatch)" stroke="#c0c0c0" stroke-width="0.5" stroke-linejoin="round"/>
<g clip-path="url(#landclip)" fill="none" stroke="#b8b8b8" stroke-width="0.55" stroke-linejoin="round"><polyline points="359.2,245.7 360.4,252.2 356.7,253.8 354.9,254.8 351.4,259.0 343.9,262.4 343.8,265.1"/>
<polyline points="343.8,265.1 333.7,265.1"/>
<polyline points="343.8,265.1 343.7,269.4 336.3,269.4 336.2,276.1 333.6,277.8 333.8,281.6 324.8,281.6"/>
<polyline points="343.8,266.0 352.4,272.0"/>
<polyline points="352.4,272.0 348.6,272.3 350.7,294.5 341.1,297.4 337.0,296.6 335.4,298.7"/>
<polyline points="335.4,298.7 332.0,294.8 325.6,295.3"/>
<polyline points="352.4,272.0 365.9,281.7 372.8,287.3"/>
<polyline points="372.8,287.3 376.3,286.5 390.2,276.0"/>
<polyline points="390.2,276.0 389.2,274.7 386.1,272.6 384.2,268.9 385.2,266.8 384.1,258.5"/>
<polyline points="384.1,258.5 379.7,250.4 381.1,247.0 381.1,241.0"/>
<polyline points="384.1,258.5 385.5,254.6 388.2,250.6"/>
<polyline points="418.1,254.8 419.6,279.9"/>
<polyline points="419.6,279.9 419.8,285.1 417.5,285.1 417.6,286.4"/>
<polyline points="417.6,286.4 399.0,276.2"/>
<polyline points="399.0,276.2 395.2,278.3 390.2,276.0"/>
<polyline points="419.6,279.9 446.5,279.9"/>
<polyline points="399.0,276.2 398.2,283.3 394.3,301.3"/>
<polyline points="372.8,287.3 372.8,294.5 371.2,297.1 365.5,298.1 363.7,298.4"/>
<polyline points="363.7,298.4 361.8,297.9 358.7,300.2 356.4,301.8 353.4,302.8 350.6,310.2"/>
<polyline points="335.4,298.7 337.1,304.9 344.0,307.5 344.9,310.7 350.6,310.2"/>
<polyline points="363.7,298.4 364.1,302.1 365.5,303.4 368.3,304.9 368.7,306.2 371.5,306.8"/>
<polyline points="371.5,306.8 372.6,302.1 376.9,301.5 381.5,303.4 386.1,302.6 391.8,303.1 394.3,301.5"/>
<polyline points="394.3,301.5 395.5,303.4 396.7,305.5 397.6,308.6 397.9,311.2 395.4,312.5 398.9,317.5"/>
<polyline points="398.9,317.5 405.8,316.4 409.2,313.5 413.7,308.6 416.0,309.4"/>
<polyline points="417.6,286.4 417.9,296.3 415.5,296.8 413.6,303.4 414.8,308.6 416.0,309.4"/>
<polyline points="416.0,309.4 421.8,310.7 425.2,312.2 429.8,312.0 433.3,311.7 436.6,306.2 439.3,305.5 441.3,311.2 441.9,309.9"/>
<polyline points="441.9,309.9 444.1,305.7 446.2,300.0 446.6,300.0"/>
<polyline points="446.6,300.0 447.4,292.9 450.9,290.3"/>
<polyline points="446.6,300.0 450.0,298.9 454.6,299.4 458.7,303.4 461.9,304.1"/>
<polyline points="458.8,307.3 461.4,308.6 464.3,313.8 473.6,316.4 466.6,324.5 460.0,326.3 457.7,326.9"/>
<polyline points="457.7,326.9 453.1,328.2 446.2,325.6 445.9,323.7"/>
<polyline points="445.9,323.7 441.4,315.1 441.9,309.9"/>
<polyline points="445.9,323.7 441.6,326.3 439.3,327.4 434.7,327.6 432.4,327.9"/>
<polyline points="416.0,309.4 418.4,314.6 425.4,323.7 432.4,327.9"/>
<polyline points="426.3,324.2 415.1,326.3 409.3,325.8 405.9,328.2 400.6,331.6"/>
<polyline points="398.9,317.5 396.4,324.2 400.1,331.3"/>
<polyline points="394.3,301.5 395.3,307.3 393.1,313.8 389.7,320.3 385.4,324.2 383.1,325.3"/>
<polyline points="371.5,306.8 371.5,313.8 369.5,320.6"/>
<polyline points="365.3,308.6 367.4,313.8 366.9,321.1"/>
<polyline points="363.2,308.6 364.4,315.1 366.0,321.4"/>
<polyline points="356.8,308.8 363.2,308.6 365.3,308.6"/>
<polyline points="356.8,308.8 357.5,315.9 355.9,320.3 356.1,324.0"/>
<polyline points="350.6,310.2 356.8,312.2"/>
<polyline points="344.9,310.7 343.9,317.2 346.0,325.8"/>
<polyline points="332.9,312.5 338.7,311.7 339.6,315.1 343.9,317.2"/>
<polyline points="339.6,315.1 336.8,319.0"/>
<polyline points="325.0,305.2 331.9,304.4 337.1,304.9"/>
<polyline points="385.8,331.3 389.3,331.6 393.9,331.6 400.1,331.3"/>
<polyline points="393.9,331.6 396.7,342.5 392.1,343.8 389.7,347.2"/>
<polyline points="400.6,331.6 403.6,339.9 400.1,346.4 395.5,349.0 391.3,352.4"/>
<polyline points="391.3,353.0 400.8,353.0 403.7,358.2 413.4,356.4 414.1,366.5 418.3,366.0 418.2,371.2"/>
<polyline points="418.2,371.2 425.1,368.6 429.6,372.3 431.5,369.1 428.7,360.8 433.3,359.0"/>
<polyline points="433.3,359.0 431.1,353.0 430.5,345.9 431.5,340.7 434.3,333.4 435.2,331.6 432.4,327.9"/>
<polyline points="441.6,326.3 443.9,333.4 441.7,337.3 441.4,339.9"/>
<polyline points="431.5,340.7 433.6,339.9 441.4,339.9 449.9,345.4 453.5,349.6"/>
<polyline points="433.3,359.0 439.0,362.1 442.5,367.3 450.4,366.8 455.9,364.4"/>
<polyline points="457.7,326.9 457.8,341.7 459.2,341.7"/>
<polyline points="418.2,371.2 413.6,371.2 413.3,379.6 416.4,383.2"/>
<polyline points="389.8,382.5 395.1,382.7 405.3,382.7 416.4,383.2"/>
<polyline points="416.4,383.2 420.5,383.8"/>
<polyline points="410.9,385.1 410.6,394.7 408.3,394.7 408.0,402.0"/>
<polyline points="408.0,402.0 407.6,411.4 399.8,412.0"/>
<polyline points="408.0,402.0 414.7,403.3 420.5,404.1 423.9,399.9 429.5,395.3"/>
<polyline points="420.5,383.8 424.3,389.5 429.5,395.3 433.8,395.8 437.9,389.5 438.1,380.9 432.6,378.0 427.0,380.4 420.5,383.8"/>
<polyline points="433.8,395.8 434.8,405.2 436.6,407.5"/>
<polyline points="432.6,378.0 438.7,373.8 442.9,381.7 443.2,375.2 442.5,367.3"/>
<polyline points="438.7,373.8 439.0,362.1"/>
<polyline points="423.0,414.3 425.3,412.2 428.3,413.8 426.8,416.4 423.9,417.2 423.0,414.3"/>
<polyline points="197.7,308.3 196.6,316.4 202.2,319.0 207.9,321.6 207.1,325.6 208.1,332.1 209.0,334.2"/>
<polyline points="209.0,334.2 203.0,334.4 202.3,339.9 202.2,348.3"/>
<polyline points="202.2,348.3 200.4,347.2 195.0,343.3 189.6,337.6 185.7,336.3 181.6,333.6"/>
<polyline points="189.6,337.6 189.0,341.2 182.8,346.4 178.2,346.2"/>
<polyline points="202.2,348.3 195.3,355.6 194.5,361.8 201.3,366.0 203.6,366.0"/>
<polyline points="203.6,366.0 205.9,369.9 205.6,375.2 205.5,379.1 205.1,383.0"/>
<polyline points="203.6,366.0 213.3,362.6 214.3,368.1 221.4,372.5 225.0,374.4 226.0,379.8 230.1,379.8 231.3,383.0 232.6,384.8"/>
<polyline points="232.6,384.8 229.4,387.7 223.4,388.5 222.3,392.1 221.9,395.3"/>
<polyline points="221.9,395.3 218.3,396.8 214.7,395.0 211.7,396.6"/>
<polyline points="232.6,384.8 231.8,389.5 232.5,395.0 237.6,396.0 238.8,399.9 240.8,404.1"/>
<polyline points="221.9,395.3 226.0,399.4 232.0,403.1 232.4,408.6 238.3,409.1 240.8,404.1"/>
<polyline points="240.8,404.1 243.0,408.0 239.0,411.2 235.7,416.1"/>
<polyline points="235.7,416.1 239.5,418.0 241.9,419.5 246.4,425.3"/>
<polyline points="235.7,416.1 235.1,420.8 235.6,425.8"/>
<polyline points="225.4,315.1 221.9,321.9 223.5,323.7 225.1,324.0"/>
<polyline points="225.1,324.0 220.4,326.6 215.8,326.9 213.9,331.6 209.0,334.2"/>
<polyline points="225.1,324.0 225.5,326.9 225.9,333.4 228.4,333.9 233.0,332.3"/>
<polyline points="233.0,332.3 229.9,326.9 232.1,321.9"/>
<polyline points="238.9,322.4 237.7,328.2 238.6,331.8"/>
<polyline points="233.0,332.3 238.6,331.8"/>
<polyline points="238.6,331.8 241.3,331.6 244.4,326.3"/>
<polyline points="152.6,299.4 152.8,297.4 154.2,295.3 157.2,295.3 157.7,290.8 160.7,290.8"/>
<polyline points="160.7,290.8 159.8,295.8"/>
<polyline points="159.8,295.8 159.7,299.7 157.2,301.5"/>
<polyline points="159.7,299.7 162.5,301.0 162.6,302.6"/>
<polyline points="162.5,303.4 164.9,302.6 166.6,300.8 169.1,299.2 173.3,298.1"/>
<polyline points="184.1,318.5 185.6,314.6"/>
<polyline points="200.8,285.4 200.3,290.3"/>
<polyline points="408.3,209.6 410.6,206.3 409.2,203.3"/>
<polyline points="409.2,203.3 409.0,200.5 408.3,197.5"/>
<polyline points="400.6,196.3 406.8,196.3"/>
<polyline points="390.2,197.5 391.3,200.8 392.3,204.8"/>
<polyline points="409.2,203.3 413.0,202.5 418.1,203.3 423.2,204.0 425.4,202.0"/>
<polyline points="425.4,202.0 424.0,199.3 426.5,198.8 422.5,195.8 421.8,193.3 416.3,191.9"/>
<polyline points="425.4,202.0 430.7,202.8 433.3,205.8 439.2,207.3 443.2,208.3 443.6,212.9 440.7,214.6"/>
<polyline points="409.3,212.6 413.4,213.1 416.6,211.6"/>
<polyline points="416.6,211.6 419.5,211.6 422.3,213.9 424.5,216.4 421.0,218.7 420.1,215.7 416.6,211.6"/>
<polyline points="421.0,218.7 424.2,219.5"/>
<polyline points="404.5,217.2 407.0,219.5 409.9,221.3"/>
<polyline points="410.0,222.1 412.9,223.4 417.0,222.9 420.9,222.6 422.4,223.4"/>
<polyline points="410.0,222.1 409.6,224.4 411.2,226.7 411.3,229.6"/>
<polyline points="401.9,217.7 403.0,220.3 402.7,221.8 403.8,224.7"/>
<polyline points="395.5,219.5 396.9,219.5 402.1,220.0"/>
<polyline points="395.5,219.5 396.5,222.1 399.9,225.2"/>
<polyline points="401.7,226.7 402.9,223.9 404.9,225.2 403.7,228.0"/>
<polyline points="403.7,228.0 406.3,228.0 406.7,230.6 407.4,231.4 405.5,233.7"/>
<polyline points="406.3,228.0 409.9,227.0 411.3,229.6 407.4,230.6"/>
<polyline points="404.9,225.2 408.3,227.0"/>
<polyline points="417.7,228.5 421.8,227.8"/>
<polyline points="446.3,224.1 450.6,224.7 455.1,225.9 460.5,228.0 465.0,228.3"/>
<polyline points="450.4,229.0 454.9,230.1 457.9,229.6 461.2,230.3 460.5,228.0"/>
<polyline points="454.9,230.1 455.6,232.7 458.3,233.7 462.3,235.8 459.4,231.6 457.9,229.6"/>
<polyline points="458.3,233.7 462.3,235.5 465.3,234.5 466.6,237.1 467.7,237.1"/>
<polyline points="458.3,233.7 457.9,237.1 459.5,240.2"/>
<polyline points="459.5,240.2 462.7,243.9 462.2,248.8 465.0,251.4 468.3,256.4 469.4,259.0"/>
<polyline points="454.4,240.5 452.8,247.5 447.9,250.1"/>
<polyline points="447.9,250.1 441.8,251.9"/>
<polyline points="441.2,247.0 442.9,248.0 441.0,250.4"/>
<polyline points="447.9,250.1 449.2,253.2 455.7,256.1 462.3,261.1 466.3,261.3 469.2,262.9"/>
<polyline points="466.3,261.3 468.7,259.0 469.4,259.0"/>
<polyline points="449.2,253.2 444.6,255.1 447.1,257.7 446.1,259.0 443.0,261.1 440.7,260.6"/>
<polyline points="460.7,294.5 463.3,291.9 471.3,292.9 474.4,288.7 481.2,287.7"/>
<polyline points="481.2,287.7 488.9,279.9 487.1,278.0 481.7,277.5 479.1,273.9"/>
<polyline points="481.2,287.7 484.1,293.7"/>
<polyline points="488.9,279.9 489.7,272.3"/>
<polyline points="440.5,260.3 438.5,255.6"/>
<polyline points="463.2,216.4 461.4,211.6 456.9,211.3 457.4,209.3 458.5,206.0 463.7,203.5 472.3,205.5 477.9,204.5 485.1,205.3 482.2,200.3 482.0,197.3 488.2,195.8 494.1,194.8 498.6,194.1 505.7,198.5 511.2,197.3 515.9,201.0 521.9,205.3 525.7,204.8 533.5,208.6 538.4,209.3"/>
<polyline points="539.5,209.3 542.2,206.0 550.9,207.3 558.5,207.3 556.6,202.3 564.6,203.5 574.4,206.5 580.8,208.8 587.7,208.6 594.9,207.3 596.5,207.5"/>
<polyline points="596.5,207.5 601.7,207.0 600.1,202.8 601.8,199.0 606.9,199.3 618.3,207.8 625.9,210.1 629.0,213.1 635.3,211.6 637.7,220.0 634.2,220.3 636.8,226.5"/>
<polyline points="539.5,209.3 548.8,216.2 550.9,220.0 564.0,225.9 574.6,226.2 584.2,228.8 594.6,226.5 595.7,223.4 599.9,219.0 602.3,215.9 607.6,215.7 602.3,212.6 596.5,207.5"/>
<polyline points="538.4,209.3 537.4,214.9 532.0,214.4 532.4,218.7 528.1,220.3 531.4,227.2"/>
<polyline points="531.4,227.2 525.7,230.3 520.5,234.0 519.8,234.2 524.2,239.7"/>
<polyline points="531.4,227.2 522.9,225.2 517.4,224.7 512.0,227.0 508.8,230.3"/>
<polyline points="508.8,230.3 501.7,227.8 499.9,223.4 489.4,221.6 483.5,218.5 478.6,220.0 481.1,229.6"/>
<polyline points="481.1,229.6 476.3,227.0 474.4,227.8"/>
<polyline points="481.1,229.6 484.5,226.2 489.4,229.0 492.7,229.6 495.8,233.2 500.6,235.8 506.1,239.7"/>
<polyline points="479.0,239.9 485.2,237.6 492.3,240.7 495.2,242.0 495.7,244.4"/>
<polyline points="495.7,244.4 498.7,245.2 502.5,242.5 506.1,239.7"/>
<polyline points="506.1,239.7 509.0,240.2 509.6,237.6 507.1,234.0 509.5,232.7 513.7,232.4 518.1,232.9 519.8,234.2"/>
<polyline points="508.8,230.3 512.9,229.8 517.7,231.6 519.8,234.2"/>
<polyline points="524.2,239.7 517.3,241.2 517.2,243.3 518.5,245.4 515.8,248.5 514.9,251.2 516.1,254.8 510.1,259.0 501.7,260.6 498.0,259.5"/>
<polyline points="498.0,259.5 499.4,256.4 495.3,249.6 495.7,244.4"/>
<polyline points="506.1,239.7 509.6,240.7 513.5,239.2 517.1,240.7 524.2,239.7"/>
<polyline points="498.0,259.5 502.2,263.4 504.6,267.6 501.3,271.5"/>
<polyline points="516.6,275.4 520.5,274.1 522.7,273.6 519.6,268.1 523.5,264.2 526.9,259.0 527.7,256.4 526.1,251.2 524.2,247.2 531.8,244.6"/>
<polyline points="531.8,244.6 535.3,247.8 535.4,252.5 542.3,258.5"/>
<polyline points="542.3,258.5 541.1,262.1 548.3,265.8 553.0,267.3 560.2,268.4 559.6,264.5 554.6,264.2 549.5,260.8 542.3,258.5"/>
<polyline points="561.3,266.0 568.9,267.3 567.2,264.7 562.5,263.7 561.3,266.0"/>
<polyline points="567.2,264.7 571.6,260.8 576.0,260.6 579.7,263.7"/>
<polyline points="560.2,268.4 562.7,271.3 561.3,273.3 562.9,276.5 564.0,279.9"/>
<polyline points="560.2,268.4 564.2,269.4 569.5,271.8 570.8,275.4 572.5,282.0"/>
<polyline points="579.7,263.7 579.7,266.8 576.2,267.9 575.4,272.3 575.0,275.2 573.8,279.9 572.5,282.0"/>
<polyline points="579.7,263.7 582.8,265.5 583.5,274.7 587.7,279.6 591.8,281.2"/>
<polyline points="591.8,281.2 593.4,278.8 596.5,278.0 600.3,276.5 603.6,277.8 606.9,280.9"/>
<polyline points="589.7,284.0 585.5,287.7 584.8,290.3 587.5,294.0 587.4,297.9 589.8,301.3 589.2,306.5 589.1,311.2"/>
<polyline points="589.7,284.0 591.8,281.2"/>
<polyline points="589.7,284.0 591.0,286.4 593.4,291.6 596.4,290.6 601.4,291.9 604.1,296.6 604.3,300.0"/>
<polyline points="604.3,300.0 598.6,300.0 597.2,302.3 599.1,307.0"/>
<polyline points="593.4,278.8 595.5,280.7 599.7,283.8 598.9,286.4 603.0,289.0 605.6,292.9 608.4,296.8 608.8,299.4"/>
<polyline points="604.3,300.0 608.8,299.4 607.2,306.0 603.7,309.9"/>
<polyline points="593.6,320.3 595.7,321.6 598.2,321.1"/>
<polyline points="627.1,232.9 628.7,229.3 632.5,227.8 635.1,226.5 636.8,226.5"/>
<polyline points="616.8,333.4 621.5,333.4 626.0,329.5 629.3,326.3 633.9,326.3"/>
<polyline points="688.2,344.1 687.1,361.1"/>
<polyline points="650.4,360.8 649.1,362.1"/></g>
<polygon points="128.2,160.8 131.8,162.4 138.8,161.2 144.7,160.4 151.8,159.4 155.0,160.9 158.5,160.3 163.8,161.5 168.5,163.2 170.3,164.4 173.8,164.4 178.5,163.8 182.6,163.2 185.6,163.8 190.3,165.0 196.2,164.4 199.7,163.8 200.0,160.2 203.5,158.5 207.1,157.3 209.4,157.3 210.6,160.2 212.9,163.2 215.9,162.0 219.4,161.5 222.4,161.7 226.2,162.6 228.0,166.0 225.0,172.0 221.2,178.2 227.0,177.1 232.9,179.4 235.3,185.3 238.8,186.5 243.5,182.9 244.7,185.3 245.9,191.2 249.4,194.7 252.9,198.2 252.9,201.8 253.6,200.1 253.1,202.8 251.0,203.8 246.7,205.4 243.0,206.7 238.8,207.3 234.0,207.3 229.8,207.8 225.6,210.2 221.9,212.8 218.2,215.5 216.5,217.5 215.5,219.5 212.0,220.8 208.8,221.5 202.9,223.2 197.1,226.2 192.4,227.9 188.2,228.5 190.6,225.6 191.8,220.9 188.8,216.2 183.0,212.6 173.5,211.5 171.2,210.3 150.0,210.3 114.5,210.4 113.7,209.7 112.3,207.0 110.0,204.3 111.0,201.7 110.3,199.0 111.0,196.3 113.7,193.7 112.7,191.0 113.0,187.7 112.7,184.3 109.7,184.3 107.3,185.7 107.0,183.7 104.3,182.0" fill="#0c2c84" stroke="#5a5a5a" stroke-width="0.35" stroke-linejoin="round"/>
<polygon points="221.9,214.9 225.6,211.8 229.3,210.4 231.9,210.7 233.0,211.8 230.9,213.3 230.9,215.5 232.5,217.0 234.6,217.6 237.2,217.0 239.3,216.5 239.9,218.1 237.2,219.2 233.5,220.2 229.8,221.3 226.6,223.4 225.1,223.9 225.6,222.3 227.7,220.8 224.5,219.2 223.5,217.0 222.9,215.5" fill="#0c2c84" stroke="#5a5a5a" stroke-width="0.35" stroke-linejoin="round"/>
<polygon points="234.0,208.6 237.2,209.1 238.3,209.9 235.1,209.6" fill="#0c2c84" stroke="#5a5a5a" stroke-width="0.35" stroke-linejoin="round"/>
<polygon points="242.5,213.3 245.7,210.7 248.9,207.5 252.0,204.9 253.1,204.9 251.5,208.1 254.2,209.6 255.7,212.3 255.2,214.9 253.6,216.5 252.0,214.9 249.9,215.5 248.9,213.9 245.7,213.9" fill="#0c2c84" stroke="#5a5a5a" stroke-width="0.35" stroke-linejoin="round"/>
<polygon points="107.0,206.3 109.0,206.3 112.3,209.7 113.0,211.3 111.0,211.7 108.3,209.0" fill="#0c2c84" stroke="#5a5a5a" stroke-width="0.35" stroke-linejoin="round"/>
<polygon points="103.7,198.3 106.3,197.7 105.0,200.3 103.7,202.3 103.0,201.0" fill="#0c2c84" stroke="#5a5a5a" stroke-width="0.35" stroke-linejoin="round"/>
<polygon points="213.5,159.8 217.0,160.6 222.6,160.8 228.5,161.0 233.2,160.9 237.0,163.5 239.0,166.5 237.0,169.5 233.0,171.2 228.0,172.0 226.0,173.0 235.0,174.4 239.0,174.4 242.6,176.8 246.2,176.2 249.0,178.0 249.5,181.0 246.0,183.0 243.8,183.2 242.1,183.2 239.1,185.0 236.8,186.8 235.0,184.4 234.4,180.9 232.6,178.5 228.5,177.9 222.6,177.9 220.9,179.7 219.4,183.0 218.5,189.1 216.8,195.0 211.8,194.7 209.4,197.1 208.2,202.9 204.7,204.7 202.9,201.8 203.5,197.1 201.2,195.3 195.3,192.4 189.4,190.0 188.2,187.6 187.1,185.3 192.9,180.6 201.2,175.9 205.0,174.6 208.5,173.8 212.6,170.3 216.8,167.9 222.6,165.6 226.2,162.6 222.4,162.0 219.4,161.8 216.0,161.0" fill="#fff"/>
<polygon points="159.1,156.2 162.6,153.8 167.4,151.2 172.6,150.9 178.5,151.5 179.7,152.6 174.4,153.2 170.3,154.4 167.0,156.5 165.6,156.8 161.5,157.6" fill="#0c2c84" stroke="#5a5a5a" stroke-width="0.35" stroke-linejoin="round"/>
<polygon points="168.5,156.2 172.6,154.4 178.5,153.8 183.2,154.4 186.8,153.8 190.3,153.8 193.2,153.8 195.6,152.6 196.0,154.5 192.6,156.2 193.2,158.5 195.0,160.3 190.3,161.5 184.4,162.6 178.5,162.6 172.6,162.6 169.1,161.5 167.9,159.1" fill="#0c2c84" stroke="#5a5a5a" stroke-width="0.35" stroke-linejoin="round"/>
<polygon points="175.6,147.4 181.5,145.6 189.1,144.4 187.9,146.2 182.6,147.4 177.4,147.9" fill="#0c2c84" stroke="#5a5a5a" stroke-width="0.35" stroke-linejoin="round"/>
<polygon points="180.9,149.1 185.6,147.6 190.3,147.6 195.0,146.8 198.5,146.8 200.9,148.5 196.2,149.4 190.3,150.3 185.6,150.9 182.6,150.3" fill="#0c2c84" stroke="#5a5a5a" stroke-width="0.35" stroke-linejoin="round"/>
<polygon points="194.4,144.4 198.5,142.6 202.1,142.4 199.7,143.8 196.2,144.7" fill="#0c2c84" stroke="#5a5a5a" stroke-width="0.35" stroke-linejoin="round"/>
<polygon points="198.5,155.0 202.1,153.2 205.0,152.4 208.2,152.3 207.6,154.4 204.7,156.1 201.8,156.7 199.7,156.8" fill="#0c2c84" stroke="#5a5a5a" stroke-width="0.35" stroke-linejoin="round"/>
<polygon points="197.4,161.5 200.9,160.3 203.8,161.5 202.1,162.6 198.5,162.6" fill="#0c2c84" stroke="#5a5a5a" stroke-width="0.35" stroke-linejoin="round"/>
<polygon points="224.7,140.2 229.4,138.5 235.3,137.3 241.2,136.4 250.0,135.5 253.5,135.4 277.0,135.8 265.3,137.9 253.5,139.7 250.0,143.8 244.7,145.5 238.2,146.7 232.4,146.7 227.6,146.1 231.2,144.9 235.3,143.8 231.8,142.6 227.1,142.6 224.7,141.4" fill="#0c2c84" stroke="#5a5a5a" stroke-width="0.35" stroke-linejoin="round"/>
<polygon points="217.1,146.1 220.6,146.7 224.7,147.9 229.4,148.8 235.3,148.8 238.8,149.4 237.6,150.2 231.8,150.5 225.3,150.5 220.6,149.9 219.4,148.2" fill="#0c2c84" stroke="#5a5a5a" stroke-width="0.35" stroke-linejoin="round"/>
<polygon points="208.8,142.3 211.8,141.4 215.3,142.6 214.1,143.8 210.6,143.5" fill="#0c2c84" stroke="#5a5a5a" stroke-width="0.35" stroke-linejoin="round"/>
<polygon points="217.6,142.9 220.6,142.6 222.4,144.4 218.8,144.1" fill="#0c2c84" stroke="#5a5a5a" stroke-width="0.35" stroke-linejoin="round"/>
<polygon points="205.9,147.9 208.8,147.0 213.5,147.0 212.9,148.5 208.8,149.4 206.5,149.1" fill="#0c2c84" stroke="#5a5a5a" stroke-width="0.35" stroke-linejoin="round"/>
<polygon points="212.9,149.6 216.5,149.1 217.1,150.0 214.1,150.5" fill="#0c2c84" stroke="#5a5a5a" stroke-width="0.35" stroke-linejoin="round"/>
<polygon points="209.4,154.4 213.5,152.6 218.8,152.0 216.5,153.8 211.8,155.5 210.0,155.5" fill="#0c2c84" stroke="#5a5a5a" stroke-width="0.35" stroke-linejoin="round"/>
<polygon points="217.9,155.0 219.4,154.4 224.7,153.2 229.4,152.6 232.9,153.2 235.3,152.6 240.0,153.2 241.2,154.9 244.7,156.7 250.0,159.6 251.5,162.5 255.9,167.4 255.0,169.1 250.9,170.9 247.4,169.1 245.6,170.9 247.4,174.4 246.2,176.2 242.6,176.8 239.1,174.4 235.6,174.4 230.0,173.5 225.6,172.6 225.0,172.1 228.5,170.9 233.2,170.3 236.8,168.5 238.5,165.6 236.2,163.8 233.2,160.9 228.5,160.9 222.6,160.6 216.8,160.3 216.2,157.4" fill="#0c2c84" stroke="#5a5a5a" stroke-width="0.35" stroke-linejoin="round"/>
<polygon points="208.5,173.8 212.6,170.8 216.8,172.1 220.3,174.4 216.8,175.0 212.1,175.6" fill="#0c2c84" stroke="#5a5a5a" stroke-width="0.35" stroke-linejoin="round"/>
<polygon points="212.0,176.4 215.5,176.0 216.0,177.6 212.5,177.8" fill="#0c2c84" stroke="#5a5a5a" stroke-width="0.35" stroke-linejoin="round"/>
<polygon points="218.0,178.0 219.7,178.3 219.4,179.2 218.0,179.1" fill="#0c2c84" stroke="#5a5a5a" stroke-width="0.35" stroke-linejoin="round"/>
<polygon points="230.9,165.0 234.0,164.4 236.8,165.6 233.5,166.8" fill="#0c2c84" stroke="#5a5a5a" stroke-width="0.35" stroke-linejoin="round"/>
<polygon points="320.8,169.5 322.5,168.3 324.5,169.0 326.5,168.0 330.0,168.3 334.1,167.8 337.0,168.8 338.6,170.3 337.0,172.8 333.0,174.0 329.4,174.6 325.5,174.2 323.0,173.3 321.5,172.0 322.8,170.8" fill="#0c2c84" stroke="#5a5a5a" stroke-width="0.35" stroke-linejoin="round"/>
<polygon points="202.8,384.5 203.2,386.5 204.7,392.5 205.5,399.0 204.8,405.0 204.3,413.0 205.3,420.0 205.8,426.5 204.2,435.7 205.8,441.7 206.9,448.2 208.5,452.5 209.1,459.0 210.7,464.4 213.4,469.8 217.8,474.2 222.1,477.4 227.5,480.1 232.9,482.3 234.5,481.3 233.5,480.1 230.8,479.0 228.6,476.3 226.4,473.6 224.3,473.1 219.9,471.5 216.7,468.2 215.6,462.0 215.0,455.8 213.4,451.4 211.5,446.0 211.3,439.0 210.2,433.0 210.2,426.0 209.5,421.0 208.5,416.0 209.0,410.0 209.7,406.0 210.0,401.5 211.3,398.4 208.5,394.0 206.2,388.0 203.5,384.0" fill="#1d91c0" stroke="#5a5a5a" stroke-width="0.35" stroke-linejoin="round"/>
<polygon points="422.3,223.2 424.2,219.5 428.9,217.6 430.8,219.0 432.0,221.6 434.2,221.2 435.6,219.8 437.5,219.7 439.2,219.5 445.8,221.4 448.6,224.2 447.7,227.9 443.9,229.4 438.3,228.4 432.6,228.4 426.1,229.8 422.3,227.0" fill="#fff"/>
<polygon points="434.5,218.3 436.5,216.5 440.0,217.2 441.0,218.7 438.0,219.2" fill="#fff"/>
<polygon points="462.0,219.0 465.0,217.0 467.0,216.0 468.5,218.0 468.0,222.0 471.0,227.0 475.0,232.0 477.0,236.0 477.0,239.0 474.0,240.0 471.0,237.0 468.0,234.0 465.0,230.0 463.0,226.0 461.0,223.0 460.5,221.0" fill="#fff"/>
<polygon points="689.7,366.3 692.1,372.7 694.5,379.5 695.5,386.5 699.3,390.8 701.5,396.3 704.7,401.7 705.8,406.0 704.7,411.5 701.5,418.0 696.0,423.4 690.6,430.0 685.2,435.3 678.7,437.5 675.4,439.1 673.3,437.5 669.9,437.6 665.9,434.4 664.4,429.6 663.6,425.7 660.4,429.6 658.8,426.5 655.6,423.3 650.9,420.9 644.6,420.9 638.2,422.5 631.9,424.1 625.6,426.5 620.8,428.9 615.3,428.1 614.5,424.9 616.9,418.6 616.9,412.2 617.7,405.9 619.2,398.0 620.8,394.8 627.2,391.7 635.1,389.3 639.8,385.3 643.0,380.6 649.3,375.8 654.1,375.0 658.8,374.2 661.2,370.3 666.7,367.1 671.5,369.5 676.2,370.3 673.1,375.8 677.8,380.6 682.6,383.7 685.7,377.4 687.3,371.1" fill="#0c2c84" stroke="#5a5a5a" stroke-width="0.35" stroke-linejoin="round"/>
<polygon points="668.3,446.3 676.2,444.7 674.6,448.6 671.5,451.0 668.3,451.5 667.5,448.6" fill="#0c2c84" stroke="#5a5a5a" stroke-width="0.35" stroke-linejoin="round"/>
<polygon points="372.3,178.3 376.0,176.0 381.3,173.0 385.0,169.3 388.0,165.5 392.5,162.5 397.0,160.6 401.5,159.1 405.3,158.4 409.8,158.0 413.5,159.1 415.0,160.3 412.8,161.0 410.5,161.0 407.5,161.0 404.5,162.1 403.0,163.3 400.0,163.3 397.0,163.3 394.0,164.8 391.0,167.0 388.8,170.0 386.5,173.0 385.0,175.3 385.0,179.0 384.6,182.0 384.3,185.0 382.0,185.8 381.3,185.8 377.5,187.3 374.5,186.5 373.0,184.3 372.3,181.3" fill="#41b6c4" stroke="#5a5a5a" stroke-width="0.35" stroke-linejoin="round"/>
<polygon points="378.2,140.9 384.7,139.7 394.1,139.1 400.0,139.7 396.0,141.5 393.0,142.6 388.2,145.6 382.4,143.8" fill="#41b6c4" stroke="#5a5a5a" stroke-width="0.35" stroke-linejoin="round"/>
<polygon points="394.0,142.5 399.0,142.0 400.0,143.5 395.0,144.0" fill="#41b6c4" stroke="#5a5a5a" stroke-width="0.35" stroke-linejoin="round"/>
<polygon points="397.0,163.3 400.0,163.3 403.0,163.3 403.0,164.0 403.0,167.0 401.5,169.5 400.0,171.5 398.5,174.0 396.5,176.5 395.0,178.5 394.8,180.0 395.5,182.0 397.0,183.5 395.5,185.0 393.3,186.5 392.5,189.5 391.8,191.8 390.3,194.0 388.8,194.4 387.3,192.5 385.8,190.3 384.3,187.3 384.3,185.0 384.6,182.0 385.0,179.0 385.0,175.3 386.5,173.0 388.8,170.0 391.0,167.0 394.0,164.8" fill="#225ea8" stroke="#5a5a5a" stroke-width="0.35" stroke-linejoin="round"/>
<polygon points="403.0,163.3 404.5,162.1 407.5,161.0 410.5,161.0 412.0,162.5 412.8,164.8 413.5,167.8 415.0,170.8 416.5,173.8 418.8,176.8 418.0,179.0 415.0,180.5 410.5,182.0 406.0,182.8 403.0,181.3 401.5,179.0 401.2,176.0 402.0,173.8 404.0,171.5 405.5,170.3 403.8,169.6 403.0,167.0" fill="#1d91c0" stroke="#5a5a5a" stroke-width="0.35" stroke-linejoin="round"/>
<polygon points="406.8,185.0 411.3,184.6 415.0,185.0 414.6,187.3 412.0,188.0 409.0,187.6 406.8,186.9" fill="#7fcdbb" stroke="#5a5a5a" stroke-width="0.35" stroke-linejoin="round"/>
<polygon points="403.8,190.3 406.8,189.1 409.0,188.4 412.0,188.4 415.0,188.4 416.1,191.0 414.3,192.5 410.5,192.5 406.0,192.1 403.8,191.8" fill="#c7e9b4" stroke="#5a5a5a" stroke-width="0.35" stroke-linejoin="round"/>
<polygon points="403.8,192.1 406.0,192.5 410.5,192.9 414.3,192.9 415.0,194.8 412.8,197.0 409.0,197.8 406.0,197.0 404.5,194.8" fill="#c7e9b4" stroke="#5a5a5a" stroke-width="0.35" stroke-linejoin="round"/>
<polygon points="378.6,190.5 381.4,189.1 383.3,190.5 382.4,194.2 381.8,196.1 380.6,196.2 379.4,196.8 378.6,193.3" fill="#1d91c0" stroke="#5a5a5a" stroke-width="0.35" stroke-linejoin="round"/>
<polygon points="384.2,193.3 386.6,193.3 386.6,195.6 384.7,195.6" fill="#1d91c0" stroke="#5a5a5a" stroke-width="0.35" stroke-linejoin="round"/>
<polygon points="352.0,187.1 353.9,186.2 356.7,186.4 357.1,187.1 356.2,188.5 358.5,189.0 359.0,190.4 357.6,192.3 358.1,193.7 359.5,195.1 360.9,196.9 362.3,197.9 363.2,199.3 364.1,200.7 366.0,201.6 365.5,203.0 364.6,204.4 363.2,205.3 360.4,205.6 358.1,205.8 355.7,206.3 353.4,207.2 352.0,207.4 352.9,206.3 354.8,204.9 355.7,203.9 353.9,203.5 353.4,202.1 354.3,200.7 355.7,199.3 356.2,197.9 354.3,196.9 353.4,196.0 353.9,194.6 352.5,193.7 352.0,192.3 351.5,190.4 351.5,188.5" fill="#225ea8" stroke="#5a5a5a" stroke-width="0.35" stroke-linejoin="round"/>
<polygon points="348.3,195.5 350.1,195.1 351.5,196.0 351.1,197.4 349.2,197.9 348.0,197.0" fill="#225ea8" stroke="#5a5a5a" stroke-width="0.35" stroke-linejoin="round"/>
<polygon points="353.8,211.9 359.5,209.1 364.0,207.2 367.1,205.6 368.2,205.6 368.8,206.2 371.8,207.4 374.7,208.5 375.9,209.1 377.6,211.5 377.6,213.8 375.3,216.2 376.5,218.5 377.6,220.3 377.1,222.6 375.5,225.1 373.0,224.8 370.8,224.2 368.5,225.0 366.5,226.3 363.0,225.5 359.5,224.6 359.9,219.5 358.5,214.8" fill="#7fcdbb" stroke="#5a5a5a" stroke-width="0.35" stroke-linejoin="round"/>
<polygon points="343.5,225.1 349.1,224.6 355.0,224.8 359.5,224.6 363.0,225.5 366.5,226.3 368.9,227.9 365.1,230.8 363.2,234.5 362.3,238.3 358.5,241.1 353.8,242.1 350.1,243.0 348.2,241.1 347.2,238.3 349.1,234.5 349.1,229.8 344.4,228.4" fill="#1d91c0" stroke="#5a5a5a" stroke-width="0.35" stroke-linejoin="round"/>
<polygon points="344.4,228.4 349.1,228.9 348.2,232.6 348.2,237.4 347.2,241.1 344.4,241.1 343.5,236.4 342.5,235.5 343.5,231.7" fill="#0c2c84" stroke="#5a5a5a" stroke-width="0.35" stroke-linejoin="round"/>
<polygon points="368.2,205.6 371.2,204.7 373.5,203.8 375.9,204.4 375.3,206.8 374.7,208.5 371.8,207.4 368.8,206.2" fill="#1d91c0" stroke="#5a5a5a" stroke-width="0.35" stroke-linejoin="round"/>
<polygon points="371.8,201.5 373.5,199.7 376.5,199.4 376.5,199.7 377.1,202.1 375.9,204.4 373.5,203.8 371.8,202.6" fill="#7fcdbb" stroke="#5a5a5a" stroke-width="0.35" stroke-linejoin="round"/>
<polygon points="376.5,199.4 377.1,197.9 379.4,196.8 380.6,196.2 384.7,196.8 387.6,197.4 390.0,197.9 391.2,200.9 391.8,203.8 392.4,205.6 390.6,206.2 387.6,206.8 388.8,208.5 390.6,210.3 391.8,211.5 389.4,212.6 388.2,213.8 384.7,213.8 382.4,214.4 380.0,213.8 377.6,213.8 377.6,211.5 375.9,209.1 374.7,208.5 375.3,206.8 375.9,204.4 377.1,202.1 376.5,199.7" fill="#41b6c4" stroke="#5a5a5a" stroke-width="0.35" stroke-linejoin="round"/>
<polygon points="387.6,206.8 390.6,206.2 392.4,205.6 395.3,206.2 398.2,207.4 400.0,209.1 397.6,210.3 394.7,210.9 391.8,211.5 390.6,210.3 388.8,208.5" fill="#41b6c4" stroke="#5a5a5a" stroke-width="0.35" stroke-linejoin="round"/>
<polygon points="400.0,209.1 402.4,209.7 405.9,209.7 408.2,210.3 407.1,211.5 404.7,212.1 401.2,212.6 398.2,212.6 397.6,211.5 397.6,210.3" fill="#7fcdbb" stroke="#5a5a5a" stroke-width="0.35" stroke-linejoin="round"/>
<polygon points="382.4,214.4 384.7,213.8 388.2,213.8 389.4,212.6 391.8,211.5 394.7,210.9 397.6,210.3 397.6,211.5 398.2,212.6 397.6,213.8 395.9,215.6 392.9,215.6 389.4,215.6 385.9,215.6 383.5,215.6 382.9,216.2" fill="#41b6c4" stroke="#5a5a5a" stroke-width="0.35" stroke-linejoin="round"/>
<polygon points="397.6,213.8 398.2,212.6 401.2,212.6 404.7,212.1 407.1,211.5 408.2,212.6 407.1,215.0 404.7,217.4 401.2,217.9 398.2,217.4 396.5,217.4 395.9,215.6" fill="#c7e9b4" stroke="#5a5a5a" stroke-width="0.35" stroke-linejoin="round"/>
<polygon points="392.9,215.6 395.9,215.6 396.5,217.4 394.7,219.1 392.4,218.5 391.2,217.4" fill="#41b6c4" stroke="#5a5a5a" stroke-width="0.35" stroke-linejoin="round"/>
<polygon points="377.6,220.3 376.5,218.5 378.8,217.9 381.2,217.9 382.9,216.2 383.5,215.6 385.9,215.6 389.4,215.6 391.2,217.4 392.4,218.5 390.5,219.5 389.0,221.5 389.6,225.1 392.0,227.5 395.5,230.0 399.5,232.0 402.1,233.4 399.5,234.7 396.9,234.1 395.6,236.6 396.9,239.2 394.3,239.9 393.7,237.3 391.7,235.3 389.2,232.8 385.3,228.9 382.1,225.1 379.5,222.8 377.1,222.6" fill="#7fcdbb" stroke="#5a5a5a" stroke-width="0.35" stroke-linejoin="round"/>
<polygon points="389.8,237.9 395.6,238.6 395.0,241.8 391.7,241.2" fill="#7fcdbb" stroke="#5a5a5a" stroke-width="0.35" stroke-linejoin="round"/>
<polygon points="380.2,230.8 383.0,230.8 383.5,235.5 381.1,236.4 380.2,233.6" fill="#7fcdbb" stroke="#5a5a5a" stroke-width="0.35" stroke-linejoin="round"/>
<polygon points="381.1,226.1 382.5,226.1 382.5,229.4 381.3,228.9" fill="#7fcdbb" stroke="#5a5a5a" stroke-width="0.35" stroke-linejoin="round"/>
<polygon points="406.0,232.8 409.9,230.8 415.0,230.8 418.9,230.2 417.6,232.8 413.7,234.1 412.4,236.6 413.7,239.2 412.4,241.8 410.5,243.1 408.6,240.5 407.3,237.9 406.6,235.3" fill="#41b6c4" stroke="#5a5a5a" stroke-width="0.35" stroke-linejoin="round"/>
<polygon points="413.8,245.4 419.5,245.8 419.0,246.8 414.3,246.3" fill="#41b6c4" stroke="#5a5a5a" stroke-width="0.35" stroke-linejoin="round"/>
<polygon points="418.1,228.9 421.4,228.4 423.2,230.3 426.1,230.3 432.6,228.4 438.3,228.4 443.9,229.8 449.6,229.8 453.4,230.3 456.2,232.6 457.1,236.4 459.0,240.2 453.4,241.1 447.7,241.6 442.1,242.1 441.1,243.9 436.4,243.0 432.6,242.1 427.9,243.0 423.2,241.1 420.4,239.2 419.5,236.4 420.4,233.6 419.5,232.6" fill="#7fcdbb" stroke="#5a5a5a" stroke-width="0.35" stroke-linejoin="round"/>
<polygon points="439.0,251.0 441.0,251.0 441.0,260.0 439.6,261.0" fill="#7fcdbb" stroke="#5a5a5a" stroke-width="0.35" stroke-linejoin="round"/>
<polygon points="166.0,309.0 168.0,309.3 170.5,310.0 172.3,312.0 172.8,314.0 172.3,316.0 171.0,316.0 170.0,314.5 169.0,312.5 167.5,312.3 166.3,311.5 165.8,310.0" fill="#c7e9b4" stroke="#5a5a5a" stroke-width="0.35" stroke-linejoin="round"/>
<polygon points="634.2,238.7 638.0,237.2 641.7,239.5 643.2,245.5 640.2,247.7 638.0,247.7 636.5,244.0 635.0,241.0" fill="#c7e9b4" stroke="#5a5a5a" stroke-width="0.35" stroke-linejoin="round"/>
</g>
<g id="legend">
<rect x="186.5" y="537.2" width="47" height="11" fill="url(#hatch)" stroke="#bbb" stroke-width="0.6"/>
<line x1="210" y1="534" x2="210" y2="537.2" stroke="#999" stroke-width="0.6"/>
<text class="lg" x="209.7" y="530" text-anchor="middle" textLength="47.5" lengthAdjust="spacingAndGlyphs">No data</text>
<rect x="253.3" y="537.2" width="58.7" height="11" fill="#ffffcc" stroke="#999" stroke-width="0.4"/>
<rect x="312.0" y="537.2" width="58.7" height="11" fill="#c7e9b4" stroke="#999" stroke-width="0.4"/>
<rect x="370.7" y="537.2" width="58.7" height="11" fill="#7fcdbb" stroke="#999" stroke-width="0.4"/>
<rect x="429.4" y="537.2" width="58.7" height="11" fill="#41b6c4" stroke="#999" stroke-width="0.4"/>
<rect x="488.1" y="537.2" width="58.7" height="11" fill="#1d91c0" stroke="#999" stroke-width="0.4"/>
<rect x="546.8" y="537.2" width="58.7" height="11" fill="#225ea8" stroke="#999" stroke-width="0.4"/>
<path d="M605.5,537.2 H659 L663.6,542.7 L659,548.2 H605.5 Z" fill="#0c2c84" stroke="#999" stroke-width="0.4"/>
<line x1="253.3" y1="533.7" x2="253.3" y2="537.2" stroke="#999" stroke-width="0.6"/>
<text class="lg" x="253.5" y="530" text-anchor="middle" textLength="8.4" lengthAdjust="spacingAndGlyphs">0</text>
<line x1="312.0" y1="533.7" x2="312.0" y2="537.2" stroke="#999" stroke-width="0.6"/>
<text class="lg" x="312.2" y="530" text-anchor="middle" textLength="16.8" lengthAdjust="spacingAndGlyphs">20</text>
<line x1="370.7" y1="533.7" x2="370.7" y2="537.2" stroke="#999" stroke-width="0.6"/>
<text class="lg" x="370.9" y="530" text-anchor="middle" textLength="16.8" lengthAdjust="spacingAndGlyphs">40</text>
<line x1="429.4" y1="533.7" x2="429.4" y2="537.2" stroke="#999" stroke-width="0.6"/>
<text class="lg" x="429.6" y="530" text-anchor="middle" textLength="16.8" lengthAdjust="spacingAndGlyphs">60</text>
<line x1="488.1" y1="533.7" x2="488.1" y2="537.2" stroke="#999" stroke-width="0.6"/>
<text class="lg" x="488.3" y="530" text-anchor="middle" textLength="16.8" lengthAdjust="spacingAndGlyphs">80</text>
<line x1="546.8" y1="533.7" x2="546.8" y2="537.2" stroke="#999" stroke-width="0.6"/>
<text class="lg" x="547.0" y="530" text-anchor="middle" textLength="23.3" lengthAdjust="spacingAndGlyphs">100</text>
<line x1="605.5" y1="533.7" x2="605.5" y2="537.2" stroke="#999" stroke-width="0.6"/>
<text class="lg" x="605.7" y="530" text-anchor="middle" textLength="23.2" lengthAdjust="spacingAndGlyphs">120</text>
</g>
</svg>
</body></html>
